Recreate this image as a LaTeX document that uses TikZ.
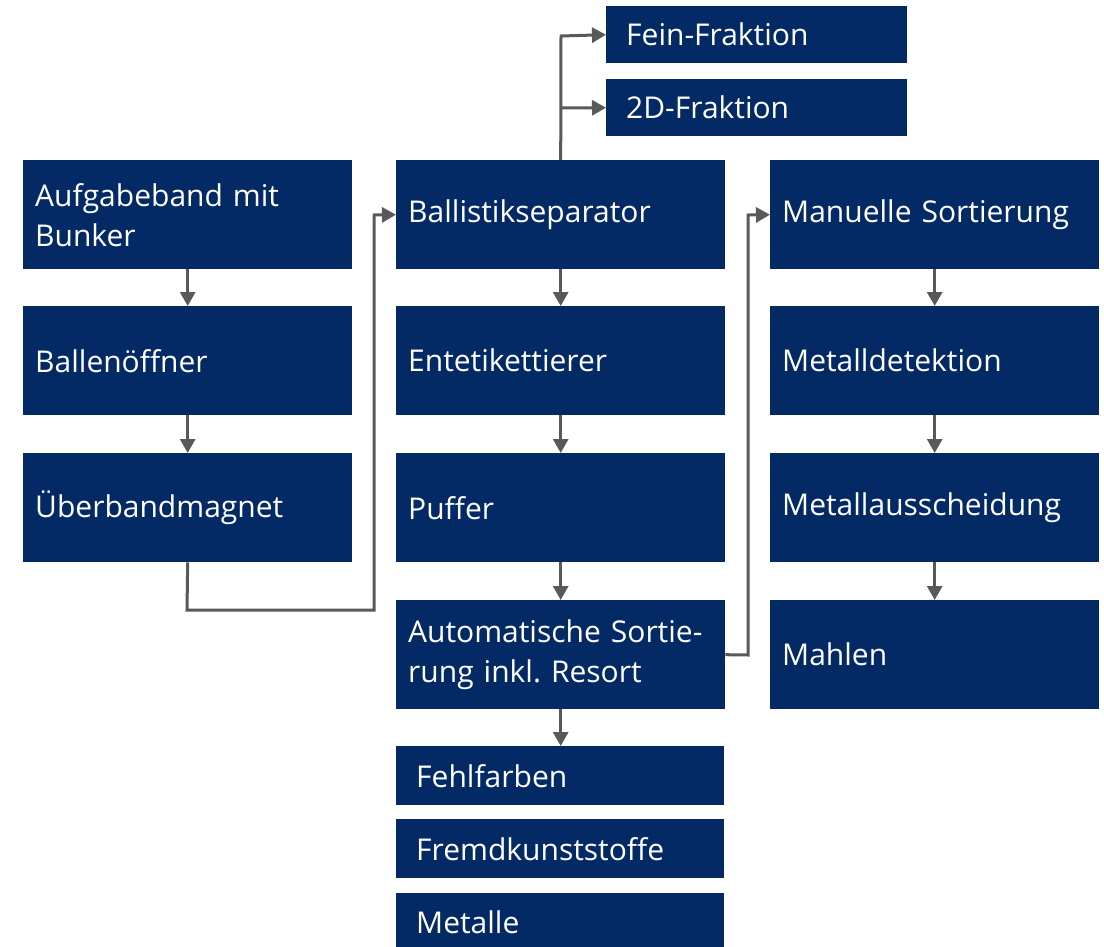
\documentclass[tikz,border=0pt]{standalone}
\usepackage{fontspec}
\setmainfont{Open Sans}
\usetikzlibrary{arrows.meta}
\definecolor{navy}{RGB}{4,42,102}
\definecolor{conn}{RGB}{89,89,89}
\frenchspacing
\begin{document}
\begin{tikzpicture}[x=1pt,y=-1pt,
  box/.style={fill=navy,text=white,anchor=north west,align=left,
    font=\fontsize{30}{40}\selectfont,inner ysep=0pt},
  bigbox/.style={box,inner xsep=12pt,text width=305pt,minimum height=109pt},
  smallbox/.style={box,inner xsep=20pt,minimum height=57pt},
  conn/.style={draw=conn,line width=3pt,-{Triangle[length=14pt,width=15pt]}},
  line/.style={draw=conn,line width=3pt}]
\useasboundingbox (0,0) rectangle (1104,947);
% column 1
\node[bigbox] (a1) at (23,160) {Aufgabeband mit\\Bunker};
\node[bigbox] (a2) at (23,306) {Ballenöffner};
\node[bigbox] (a3) at (23,453) {Überbandmagnet};
% column 2
\node[bigbox] (b1) at (396,160) {Ballistikseparator};
\node[bigbox] (b2) at (396,306) {Entetikettierer};
\node[bigbox] (b3) at (396,453) {Puffer};
\node[bigbox] (b4) at (396,600) {Automatische Sortie-\\rung inkl. Resort};
% column 3
\node[bigbox] (c1) at (770,160) {Manuelle Sortierung};
\node[bigbox] (c2) at (770,306) {Metalldetektion};
\node[bigbox] (c3) at (770,453) {Metallausscheidung};
\node[bigbox] (c4) at (770,600) {Mahlen};
% small outputs top
\node[smallbox,text width=261pt] (f1) at (606,6) {Fein-Fraktion};
\node[smallbox,text width=261pt] (f2) at (606,79) {2D-Fraktion};
% small outputs bottom
\node[smallbox,text width=288pt,minimum height=59pt] (o1) at (396,746) {Fehlfarben};
\node[smallbox,text width=288pt,minimum height=59pt] (o2) at (396,819) {Fremdkunststoffe};
\node[smallbox,text width=288pt,minimum height=59pt] (o3) at (396,893) {Metalle};
% connectors column 1
\draw[conn] (a1.south) -- (a2.north);
\draw[conn] (a2.south) -- (a3.north);
\coordinate (e1) at (187,610);
\coordinate (e2) at (374,610);
\coordinate (e3) at (374,215);
\draw[conn] (a3.south) -- (e1) -- (e2) -- (e3) -- (b1.west);
% column 2
\draw[conn] (b1.south) -- (b2.north);
\draw[conn] (b2.south) -- (b3.north);
\draw[conn] (b3.south) -- (b4.north);
\draw[conn] (b4.south) -- (o1.north -| b4.south);
% Ballistik to fractions
\coordinate (t1) at (561,36);
\coordinate (t2) at (561,108);
\draw[conn] (b1.north) -- (t1) -- (f1.west);
\draw[conn] (t2) -- (f2.west);
% Automatische to Manuelle
\coordinate (m1) at (748,655);
\coordinate (m2) at (748,215);
\draw[conn] (b4.east) -- (m1) -- (m2) -- (c1.west);
% column 3
\draw[conn] (c1.south) -- (c2.north);
\draw[conn] (c2.south) -- (c3.north);
\draw[conn] (c3.south) -- (c4.north);
\end{tikzpicture}
\end{document}
